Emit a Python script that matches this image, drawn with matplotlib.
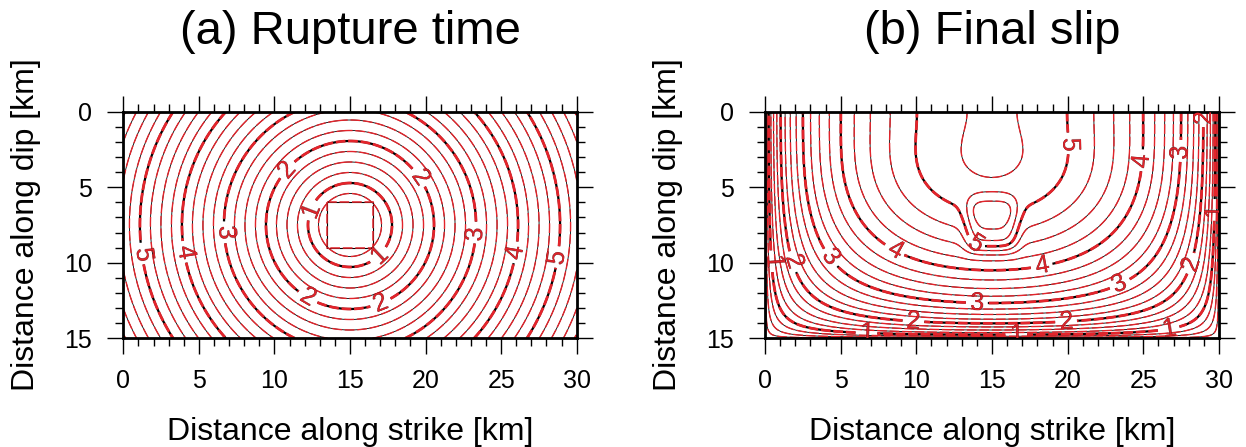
import numpy as np
import matplotlib.pyplot as plt
from matplotlib.patches import Rectangle
from matplotlib.ticker import MultipleLocator

plt.rcParams['font.family'] = ['Liberation Sans', 'DejaVu Sans']
plt.rcParams['lines.scale_dashes'] = False

# fault model, values
fault_length = 30.0      # km along strike
fault_width = 15.0       # km along dip
hypo_x, hypo_y = 15.0, 7.5
patch_size = 3.0         # nucleation square side, km
rupture_speed = 2.78     # km/s

peak_slip = 5.6          # m, elliptical crack amplitude
surface_deficit = 0.32   # m, slip lost in the shallow part
deficit_depth = 4.2      # km
patch_slip = 0.72        # extra slip around the hypocentre
patch_wx, patch_wy = 1.7, 1.8     # km

time_levels = np.arange(0.25, 6.01, 0.25)
slip_levels = np.arange(0.25, 5.76, 0.25)

# where the contour labels sit (x, depth)
time_label_pos = [(1.2, 9.4), (3.9, 9.3), (6.5, 8.0), (10.9, 3.9), (12.4, 6.5),
                  (16.9, 9.5), (12.2, 12.3), (17.0, 12.6), (19.5, 4.4),
                  (23.3, 8.0), (25.9, 9.3), (28.6, 9.6)]
slip_label_pos = [(20.0, 2.1), (24.7, 3.2), (27.5, 2.6), (29.2, 0.3), (29.5, 6.5),
                  (28.0, 10.0), (23.4, 11.3), (18.3, 10.3), (13.8, 8.8),
                  (8.7, 8.9), (4.4, 9.6), (1.6, 10.0), (0.4, 9.9),
                  (14.0, 12.6), (9.8, 14.0), (19.9, 14.0),
                  (6.7, 14.7), (16.6, 14.7), (26.7, 14.5)]

RED = '#e3242b'
DASH = (0, (7, 2))

x = np.linspace(0, fault_length, 601)
y = np.linspace(0, fault_width, 301)
X, Y = np.meshgrid(x, y)
R = np.hypot(X - hypo_x, Y - hypo_y)

# (a) rupture time, nucleation square left blank
half = patch_size / 2
inside = (np.abs(X - hypo_x) < half) & (np.abs(Y - hypo_y) < half)
T = np.ma.masked_where(inside, R / rupture_speed)

# (b) final slip: elliptical crack profile, free surface at top
fx = np.sqrt(np.clip(1 - ((X - fault_length / 2) / (fault_length / 2)) ** 2, 0, None))
gy = np.sqrt(np.clip(1 - (Y / fault_width) ** 2, 0, None))
shallow = np.exp(-(Y / deficit_depth) ** 2)
patch = np.exp(-((X - hypo_x) / patch_wx) ** 4) * np.exp(-((Y - hypo_y) / patch_wy) ** 4)
S = peak_slip * fx * gy - surface_deficit * fx ** 2 * shallow + patch_slip * patch
S = np.where(fx * gy > 0, S, 0.0)

fig = plt.figure(figsize=(12.46, 4.47), dpi=100)
ax_a = fig.add_axes([123.3 / 1246, 1 - 338.3 / 447, 453.4 / 1246, 226.6 / 447])
ax_b = fig.add_axes([765 / 1246, 1 - 338.3 / 447, 454 / 1246, 226.6 / 447])


def setup(ax, title):
    ax.set_xlim(0, fault_length)
    ax.set_ylim(fault_width, 0)
    ax.set_xticks(np.arange(0, 31, 5))
    ax.set_yticks(np.arange(0, 16, 5))
    ax.xaxis.set_minor_locator(MultipleLocator(1))
    ax.yaxis.set_minor_locator(MultipleLocator(1))
    ax.tick_params(which='both', direction='out', top=True, right=True,
                   width=1.0, labelsize=18)
    ax.tick_params(which='major', length=11.3, pad=11)
    ax.tick_params(which='minor', length=5.5)
    for sp in ax.spines.values():
        sp.set_linewidth(2.0)
    ax.set_xlabel('Distance along strike [km]', fontsize=23, labelpad=17)
    ax.set_ylabel('Distance along dip [km]', fontsize=23, labelpad=17)
    ax.set_title(title, fontsize=34, pad=49)


def draw(ax, Z, levels, label_pos):
    major = levels[np.isclose(levels, np.round(levels))]
    minor = levels[~np.isclose(levels, np.round(levels))]
    ax.contour(X, Y, Z, levels=minor, colors='black', linewidths=0.6)
    ax.contour(X, Y, Z, levels=minor, colors=RED, linewidths=1.0, linestyles=[DASH])
    cs_k = ax.contour(X, Y, Z, levels=major, colors='black', linewidths=1.6)
    cs_r = ax.contour(X, Y, Z, levels=major, colors=RED, linewidths=2.0,
                      linestyles=[DASH])
    for cs, col in ((cs_k, 'black'), (cs_r, RED)):
        ax.clabel(cs, manual=label_pos, fmt='%d', fontsize=18,
                  colors=col, inline=True, inline_spacing=4)


setup(ax_a, '(a) Rupture time')
setup(ax_b, '(b) Final slip')

draw(ax_a, T, time_levels, time_label_pos)
ax_a.add_patch(Rectangle((hypo_x - half, hypo_y - half), patch_size, patch_size,
                         fill=False, ec='black', lw=0.8))
ax_a.add_patch(Rectangle((hypo_x - half, hypo_y - half), patch_size, patch_size,
                         fill=False, ec=RED, lw=1.1, ls=DASH))
draw(ax_b, S, slip_levels, slip_label_pos)

fig.savefig('out.png', dpi=100)
